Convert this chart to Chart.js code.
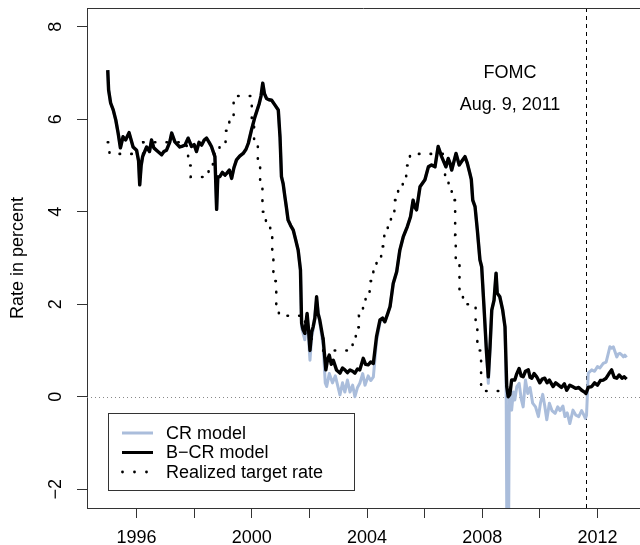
<!DOCTYPE html>
<html>
<head>
<meta charset="utf-8">
<script src="https://cdn.jsdelivr.net/npm/chart.js@4"></script>
<style>
  body { margin: 0; background: #fff; }
  canvas { display: block; }
</style>
</head>
<body>
<canvas id="rateChart" width="640" height="545"></canvas>
<script>
// B-CR model (black), year fractions and rates in percent
const bcrYears = [
  1995.00, 1995.03, 1995.10, 1995.19, 1995.28, 1995.36, 1995.44, 1995.53, 1995.62, 1995.74,
  1995.88, 1996.00, 1996.07, 1996.11, 1996.16, 1996.21, 1996.35, 1996.45, 1996.52, 1996.60,
  1996.69, 1996.78, 1996.87, 1996.95, 1997.04, 1997.15, 1997.22, 1997.33, 1997.42, 1997.50,
  1997.60, 1997.68, 1997.79, 1997.91, 1998.00, 1998.08, 1998.17, 1998.26, 1998.35, 1998.43,
  1998.52, 1998.60, 1998.72, 1998.78, 1998.82, 1998.89, 1998.98, 1999.07, 1999.13, 1999.22,
  1999.30, 1999.38, 1999.47, 1999.58, 1999.70, 1999.80, 1999.88, 1999.99, 2000.11, 2000.26,
  2000.32, 2000.38, 2000.44, 2000.51, 2000.60, 2000.69, 2000.80, 2000.92, 2000.98, 2001.03,
  2001.09, 2001.15, 2001.20, 2001.26, 2001.35, 2001.44, 2001.52, 2001.61, 2001.69, 2001.73,
  2001.78, 2001.84, 2001.92, 2001.97, 2002.02, 2002.08, 2002.13, 2002.19, 2002.25, 2002.30,
  2002.36, 2002.48, 2002.57, 2002.63, 2002.69, 2002.76, 2002.83, 2002.94, 2003.06, 2003.15,
  2003.23, 2003.32, 2003.41, 2003.50, 2003.58, 2003.67, 2003.75, 2003.87, 2003.95, 2004.04,
  2004.13, 2004.22, 2004.33, 2004.45, 2004.54, 2004.62, 2004.72, 2004.80, 2004.91, 2005.03,
  2005.14, 2005.26, 2005.40, 2005.51, 2005.60, 2005.66, 2005.72, 2005.84, 2006.01, 2006.13,
  2006.24, 2006.36, 2006.47, 2006.59, 2006.74, 2006.82, 2006.88, 2006.94, 2007.09, 2007.20,
  2007.30, 2007.40, 2007.48, 2007.57, 2007.62, 2007.67, 2007.75, 2007.83, 2007.92, 2007.98,
  2008.06, 2008.15, 2008.21, 2008.27, 2008.33, 2008.41, 2008.48, 2008.52, 2008.61, 2008.71,
  2008.79, 2008.85, 2008.90, 2008.96, 2009.02, 2009.13, 2009.20, 2009.28, 2009.35, 2009.42,
  2009.50, 2009.60, 2009.66, 2009.72, 2009.80, 2009.89, 2010.00, 2010.08, 2010.17, 2010.25,
  2010.33, 2010.46, 2010.55, 2010.65, 2010.75, 2010.85, 2010.93, 2011.04, 2011.13, 2011.25,
  2011.35, 2011.45, 2011.55, 2011.60, 2011.68, 2011.80, 2011.90, 2012.00, 2012.10, 2012.20,
  2012.30, 2012.40, 2012.49, 2012.58, 2012.67, 2012.75, 2012.85, 2012.93, 2013.01
];
const bcrRates = [
  7.06, 6.63, 6.35, 6.20, 5.98, 5.70, 5.38, 5.62, 5.55, 5.71,
  5.40, 5.33, 5.10, 4.58, 5.00, 5.19, 5.40, 5.30, 5.55, 5.38,
  5.33, 5.28, 5.23, 5.30, 5.33, 5.50, 5.70, 5.51, 5.45, 5.40,
  5.42, 5.44, 5.59, 5.41, 5.45, 5.30, 5.50, 5.44, 5.55, 5.59,
  5.50, 5.41, 5.19, 4.05, 4.75, 4.76, 4.85, 4.79, 4.83, 4.90,
  4.72, 4.95, 5.12, 5.20, 5.26, 5.35, 5.48, 5.77, 6.05, 6.34,
  6.50, 6.78, 6.55, 6.45, 6.42, 6.41, 6.31, 6.20, 5.62, 4.76,
  4.60, 4.32, 4.10, 3.82, 3.70, 3.60, 3.40, 3.17, 2.74, 1.59,
  1.45, 1.37, 1.80, 1.45, 1.00, 1.40, 1.51, 1.70, 2.16, 1.80,
  1.66, 1.23, 0.58, 0.80, 0.90, 0.70, 0.79, 0.58, 0.51, 0.62,
  0.58, 0.52, 0.58, 0.55, 0.51, 0.60, 0.58, 0.83, 0.70, 0.69,
  0.75, 0.72, 1.30, 1.66, 1.70, 1.62, 1.80, 1.95, 2.45, 2.70,
  3.17, 3.46, 3.68, 3.89, 4.25, 4.10, 4.04, 4.54, 4.69, 4.97,
  5.01, 4.97, 5.41, 5.19, 4.97, 5.15, 5.05, 4.90, 5.26, 5.01,
  5.10, 5.19, 5.05, 4.83, 4.70, 4.25, 4.11, 3.60, 2.96, 2.81,
  1.95, 0.94, 0.43, 1.08, 1.87, 2.09, 2.67, 2.24, 2.16, 1.87,
  1.51, 0.22, 0.00, 0.05, 0.36, 0.36, 0.50, 0.61, 0.45, 0.43,
  0.55, 0.58, 0.42, 0.40, 0.50, 0.43, 0.30, 0.38, 0.40, 0.30,
  0.36, 0.22, 0.30, 0.25, 0.20, 0.28, 0.14, 0.25, 0.22, 0.18,
  0.20, 0.14, 0.10, 0.07, 0.20, 0.22, 0.30, 0.25, 0.35, 0.36,
  0.40, 0.50, 0.58, 0.42, 0.40, 0.47, 0.40, 0.43, 0.38
];

// CR model (light blue): where it lies under the black line it shares the B-CR readings
const crOwnYears = [
  2001.69, 2001.73, 2001.84, 2001.92, 2002.02, 2002.08, 2002.13, 2002.25, 2002.36, 2002.48,
  2002.55, 2002.60, 2002.69, 2002.80, 2002.90, 2003.06, 2003.15, 2003.23, 2003.32, 2003.41,
  2003.50, 2003.58, 2003.67, 2003.75, 2003.85, 2003.93, 2004.04, 2004.13, 2004.22, 2004.33,
  2004.45,
  2008.21, 2008.27,
  2008.83, 2008.86, 2008.91, 2008.94, 2009.02, 2009.08, 2009.13, 2009.20, 2009.28, 2009.35,
  2009.42, 2009.50, 2009.58, 2009.66, 2009.75, 2009.85, 2009.95, 2010.02, 2010.10, 2010.17,
  2010.24, 2010.33, 2010.42, 2010.53, 2010.62, 2010.70, 2010.80, 2010.87, 2010.95, 2011.04,
  2011.15, 2011.25, 2011.35, 2011.45, 2011.50, 2011.58, 2011.62, 2011.68, 2011.80, 2011.90,
  2012.00, 2012.08, 2012.20, 2012.30, 2012.38, 2012.43, 2012.50, 2012.55, 2012.62, 2012.67,
  2012.72, 2012.78, 2012.85, 2012.90, 2012.95, 2013.01
];
const crOwnRates = [
  2.74, 1.50, 1.23, 1.75, 0.79, 1.30, 1.45, 2.10, 1.60, 1.10,
  0.30, 0.22, 0.50, 0.30, 0.45, 0.04, 0.30, 0.10, 0.36, 0.10,
  0.25, 0.00, 0.20, 0.29, 0.50, 0.25, 0.45, 0.35, 0.43, 1.20,
  1.60,
  0.29, 1.00,
  0.18, -3.60, -3.60, 0.10, -0.29, 0.10, -0.07, 0.22, 0.29, -0.04,
  -0.22, 0.36, 0.07, 0.20, -0.14, -0.22, -0.43, -0.14, 0.05, -0.20,
  -0.50, -0.14, -0.30, -0.36, -0.22, -0.30, -0.20, -0.43, -0.35, -0.58,
  -0.29, -0.40, -0.43, -0.30, -0.36, -0.47, -0.40, 0.51, 0.58, 0.55,
  0.65, 0.62, 0.72, 0.75, 0.95, 1.08, 1.05, 1.08, 0.95, 0.86,
  0.92, 0.94, 0.90, 0.86, 0.90, 0.85
];
// spans (in years) where CR sits under the B-CR line
const crSharedSpans = [[1995.0, 2001.65], [2004.5, 2008.16], [2008.3, 2008.8]];

// Realized target rate: year at which each level starts
const targetYears = [
  1995.00, 1995.06, 1996.23, 1997.74, 1997.79, 1997.88, 1998.50, 1998.65, 1998.88, 1999.09,
  1999.22, 1999.37, 2000.00, 2000.08, 2000.21, 2000.29, 2000.37, 2000.49, 2000.64, 2000.71,
  2000.75, 2000.85, 2000.94, 2001.85, 2002.48, 2003.50, 2003.61, 2003.72, 2003.86, 2003.95,
  2004.09, 2004.22, 2004.33, 2004.49, 2004.60, 2004.72, 2004.83, 2004.95, 2005.08, 2005.24,
  2005.36, 2005.49, 2006.71, 2006.83, 2006.94, 2007.06, 2007.08, 2007.21, 2007.33, 2007.77,
  2007.83, 2007.96, 2008.67
];
const targetRates = [
  5.50, 5.25, 5.50, 5.25, 5.00, 4.75, 5.00, 5.25, 5.50, 5.75,
  6.00, 6.50, 6.00, 5.50, 5.00, 4.50, 4.00, 3.75, 3.50, 3.00,
  2.50, 2.00, 1.75, 1.25, 1.00, 1.25, 1.50, 1.75, 2.00, 2.25,
  2.50, 2.75, 3.00, 3.25, 3.50, 3.75, 4.00, 4.25, 4.50, 4.75,
  5.00, 5.25, 4.75, 4.50, 4.25, 3.50, 3.00, 2.25, 2.00, 1.50,
  1.00, 0.125, 0.125
];

const xTicks = [1996, 1998, 2000, 2002, 2004, 2006, 2008, 2010, 2012];
const xLabels = [1996, 2000, 2004, 2008, 2012];
const yTicks = [-2, 0, 2, 4, 6, 8];
const fomcYear = 2011.61;
const legendLabels = ['CR model', 'B\u2212CR model', 'Realized target rate'];

const FONT = '"Liberation Sans", Arial, Helvetica, sans-serif';
const CR_BLUE = '#aabddb';

const toPoints = (xs, ys) => xs.map((x, i) => ({ x: x, y: ys[i] }));

// CR series = shared readings inside shared spans + its own readings
const crPoints = toPoints(bcrYears, bcrRates)
  .filter(p => crSharedSpans.some(s => p.x >= s[0] && p.x <= s[1]))
  .concat(toPoints(crOwnYears, crOwnRates))
  .sort((a, b) => a.x - b.x);

const decorations = {
  id: 'decorations',
  beforeDatasetsDraw(chart) {
    const { ctx, chartArea: a, scales } = chart;
    ctx.save();
    // zero line
    const y0 = Math.round(scales.y.getPixelForValue(0)) + 0.5;
    ctx.strokeStyle = '#888';
    ctx.lineWidth = 1;
    ctx.setLineDash([1, 3]);
    ctx.beginPath();
    ctx.moveTo(a.left, y0);
    ctx.lineTo(a.right, y0);
    ctx.stroke();
    // FOMC date
    const xf = Math.round(scales.x.getPixelForValue(fomcYear)) + 0.5;
    ctx.strokeStyle = '#000';
    ctx.setLineDash([4, 4]);
    ctx.beginPath();
    ctx.moveTo(xf, a.top);
    ctx.lineTo(xf, a.bottom);
    ctx.stroke();
    ctx.restore();
  },
  afterDraw(chart) {
    const { ctx, chartArea: a, scales } = chart;
    ctx.save();
    // top frame line
    ctx.strokeStyle = '#333';
    ctx.lineWidth = 1;
    ctx.beginPath();
    ctx.moveTo(a.left, Math.round(a.top) + 0.5);
    ctx.lineTo(a.right, Math.round(a.top) + 0.5);
    ctx.stroke();

    ctx.fillStyle = '#000';
    ctx.font = '18px ' + FONT;
    ctx.textAlign = 'center';
    ctx.textBaseline = 'middle';

    // y tick labels, rotated like R
    yTicks.forEach(v => {
      const py = scales.y.getPixelForValue(v);
      ctx.save();
      ctx.translate(56, py);
      ctx.rotate(-Math.PI / 2);
      ctx.fillText(String(v).replace('-', '\u2212'), 0, 0);
      ctx.restore();
    });
    // y axis title
    ctx.save();
    ctx.translate(18, (a.top + a.bottom) / 2);
    ctx.rotate(-Math.PI / 2);
    ctx.fillText('Rate in percent', 0, 0);
    ctx.restore();

    // annotation
    ctx.fillText('FOMC', 510, 73);
    ctx.fillText('Aug. 9, 2011', 510, 105);

    // legend
    ctx.fillStyle = '#fff';
    ctx.fillRect(108, 413, 247, 78);
    ctx.strokeStyle = '#333';
    ctx.strokeRect(108.5, 413.5, 246, 77);
    const rows = [433, 452.5, 472];
    ctx.lineCap = 'butt';
    ctx.lineWidth = 3;
    ctx.strokeStyle = CR_BLUE;
    ctx.beginPath(); ctx.moveTo(122, rows[0]); ctx.lineTo(153, rows[0]); ctx.stroke();
    ctx.strokeStyle = '#000';
    ctx.beginPath(); ctx.moveTo(122, rows[1]); ctx.lineTo(153, rows[1]); ctx.stroke();
    ctx.fillStyle = '#000';
    [122.5, 134.5, 146.5].forEach(dx => {
      ctx.beginPath(); ctx.arc(dx, rows[2], 1.4, 0, Math.PI * 2); ctx.fill();
    });
    ctx.textAlign = 'left';
    legendLabels.forEach((t, i) => ctx.fillText(t, 166, rows[i] + 1));
    ctx.restore();
  }
};

const ctx = document.getElementById('rateChart').getContext('2d');
new Chart(ctx, {
  type: 'line',
  data: {
    datasets: [
      {
        label: legendLabels[0],
        data: crPoints,
        borderColor: CR_BLUE,
        borderWidth: 3,
        pointRadius: 0,
        borderJoinStyle: 'round',
        tension: 0,
        order: 3
      },
      {
        label: legendLabels[1],
        data: toPoints(bcrYears, bcrRates),
        borderColor: '#000',
        borderWidth: 3.4,
        pointRadius: 0,
        borderJoinStyle: 'round',
        tension: 0,
        order: 1
      },
      {
        label: legendLabels[2],
        data: toPoints(targetYears, targetRates),
        borderColor: '#000',
        borderWidth: 2.6,
        borderDash: [0.5, 11.2],
        borderCapStyle: 'round',
        stepped: 'before',
        pointRadius: 0,
        order: 2
      }
    ]
  },
  options: {
    responsive: false,
    animation: false,
    devicePixelRatio: 1,
    layout: { padding: { top: 8, right: 0, left: 0, bottom: 0 } },
    plugins: {
      legend: { display: false },
      tooltip: { enabled: false }
    },
    scales: {
      x: {
        type: 'linear',
        min: 1994.28,
        max: 2013.476,
        afterBuildTicks: s => { s.ticks = xTicks.map(v => ({ value: v })); },
        afterFit: s => { s.height = 37; },
        grid: { drawOnChartArea: false, drawTicks: true, tickLength: 10, color: '#333' },
        border: { display: true, color: '#333', width: 1 },
        ticks: {
          autoSkip: false,
          maxRotation: 0,
          padding: 9,
          color: '#000',
          font: { family: FONT, size: 18 },
          callback: v => xLabels.includes(v) ? String(v) : ''
        }
      },
      y: {
        type: 'linear',
        min: -2.406,
        max: 8.404,
        afterBuildTicks: s => { s.ticks = yTicks.map(v => ({ value: v })); },
        afterFit: s => { s.width = 87; },
        grid: { drawOnChartArea: false, drawTicks: true, tickLength: 10, color: '#333' },
        border: { display: true, color: '#333', width: 1 },
        ticks: { display: false }
      }
    }
  },
  plugins: [decorations]
});
</script>
</body>
</html>
